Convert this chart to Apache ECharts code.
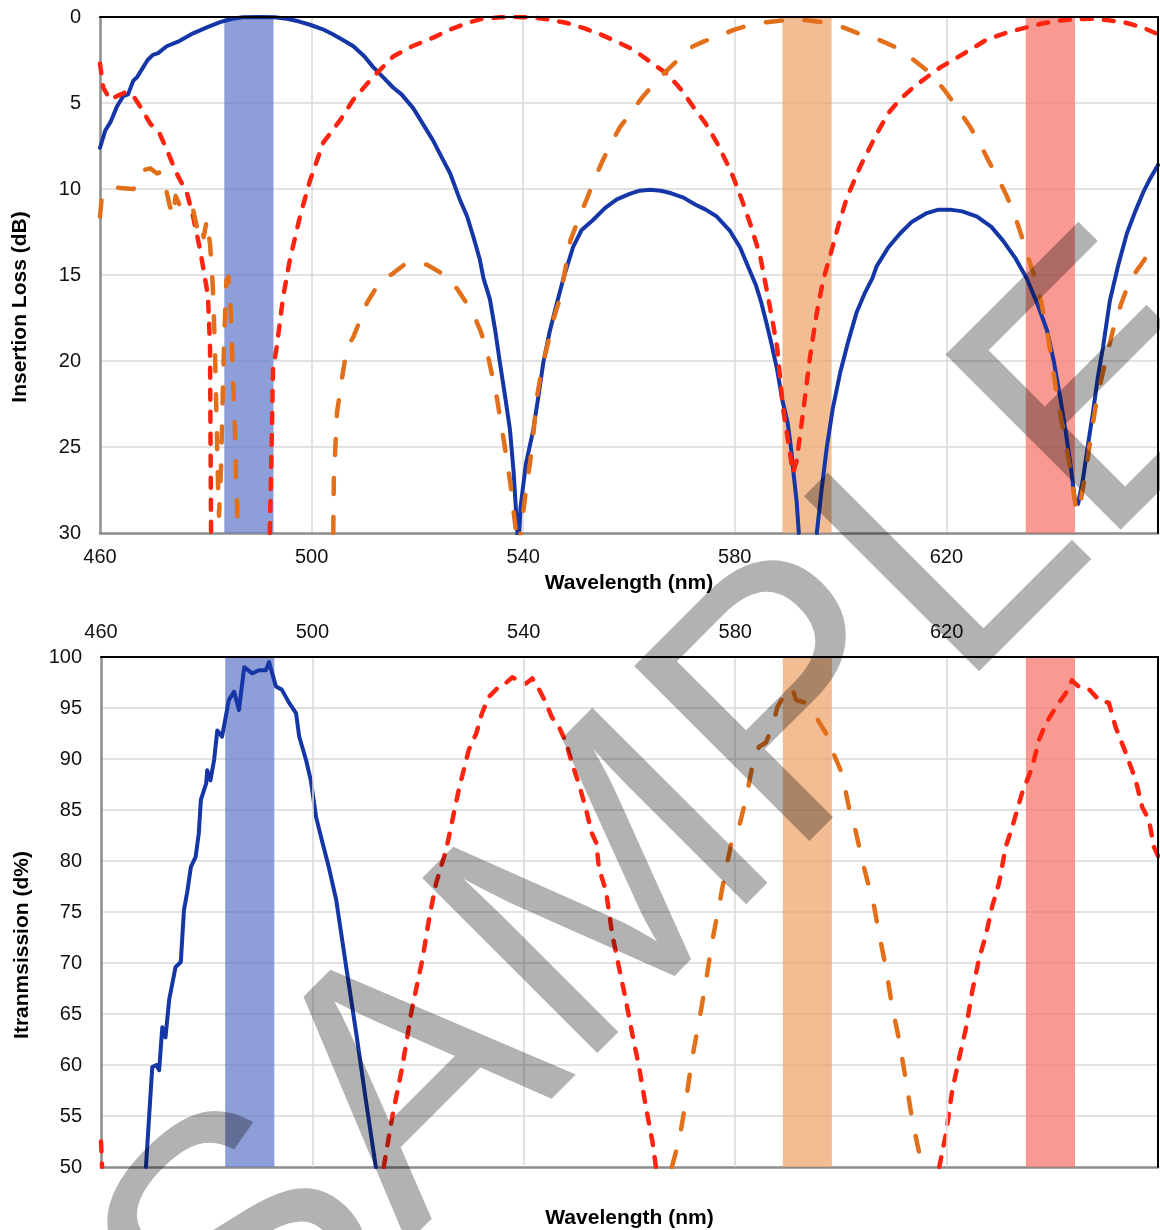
<!DOCTYPE html>
<html>
<head>
<meta charset="utf-8">
<script src="https://cdn.jsdelivr.net/npm/echarts@6.0.0/dist/echarts.min.js"></script>
<style>
  html, body { margin: 0; padding: 0; background: #fff; }
  #chart { width: 1160px; height: 1230px; }
</style>
</head>
<body>
<div id="chart"></div>
<script>
// wavelength range and shaded pass bands (nm)
const wlMin = 460
const wlMax = 660
const blueBand = [483.5, 492.8]
const orangeBand = [589, 598.3]
const redBand = [635, 644.3]

// insertion loss (dB), [wavelength, loss]; null breaks where the curve leaves the plot
const blueLoss = [
  [460,7.6],[461,6.6],[462,6.1],[463.2,5.2],[464.4,4.6],[465.3,4.5],[466.3,3.7],[467,3.5],[468,3.0],[469,2.5],
  [470,2.2],[471,2.1],[472.6,1.7],[475,1.4],[477.6,0.95],[480.2,0.6],[482.7,0.3],[485,0.1],[487,0.02],[490,0],
  [493,0.02],[495.3,0.1],[497.5,0.25],[499.7,0.45],[502,0.7],[504,1.0],[506,1.35],[507.9,1.7],[510,2.3],[511.6,2.9],
  [513.5,3.5],[515.4,4.1],[517,4.5],[519.2,5.3],[521,6.2],[523,7.2],[524.5,8.1],[526.2,9.1],[528,10.6],[529.4,11.6],
  [530.6,12.8],[531.8,14.1],[532.5,15.2],[533.7,16.4],[534.7,18.2],[535.6,20.1],[536.6,22.1],[537.5,24],[538.2,26.5],
  [538.8,29.5],[539.1,31],[539.5,28.5],[540.5,26],[541.9,24],[543,21.8],[543.8,20.1],[545,18.3],[546.4,16.6],
  [547.6,15.2],[549.4,13.4],[551,12.4],[553.2,11.8],[555.5,11.1],[557.7,10.6],[560,10.3],[562,10.1],[564,10.05],
  [566,10.1],[568,10.25],[570.3,10.5],[572.5,10.9],[574.5,11.2],[576.6,11.6],[579,12.4],[581,13.4],[582.5,14.5],
  [584,15.6],[585,16.6],[586,17.8],[587,19.1],[588,20.5],[589,22.3],[590,23.6],[590.6,25],[591.2,26.8],[591.7,28.2],
  [592.1,30],[592.2,null],[595.5,30],[596.4,27.5],[597.4,25],[598.5,22.8],[599.9,20.7],[601.5,18.8],[603,17.2],
  [604.5,16.1],[606,15.2],[606.8,14.5],[609,13.4],[611.2,12.6],[613.5,11.9],[616.3,11.4],[618.5,11.2],[620.7,11.2],
  [623,11.3],[625.8,11.6],[628.5,12.2],[630.7,13],[633,14],[635.2,15.2],[637.1,16.6],[639,18.2],[640.3,20],
  [641.5,22.1],[642.5,24],[643.4,25.9],[644.3,28.1],[644.9,28.3],[645.8,26.9],[646.7,25],[647.7,23],[648.6,21],
  [649.6,19.2],[650.9,16.5],[652.5,14.4],[654.1,12.6],[655.7,11.3],[657.2,10.2],[658.5,9.4],[660,8.6]
]
const redLoss = [
  [460,2.7],[460.6,4.1],[461.9,4.8],[463.2,4.6],[464.7,4.4],[466.3,4.6],[467.6,5.2],[469.5,6.2],[471.3,6.8],
  [472.6,7.7],[474.5,9.1],[476.4,10.2],[477.6,11.6],[478.9,13.5],[479.8,15.1],[480.4,16.2],[480.8,19.2],[480.9,25],
  [481,30],[481.1,null],[492.1,30],[492.5,24],[492.7,20.5],[493.4,19.2],[494.6,16.3],[495.9,14.1],[497.8,11.6],
  [499.7,9.5],[502.2,7.3],[505.4,6],[507.9,4.8],[511.6,3.5],[515.4,2.3],[519,1.7],[523,1.2],[526,0.75],[529.4,0.35],
  [532,0.12],[535.6,0.02],[538.5,0],[541.9,0.02],[545,0.15],[548.3,0.35],[551.5,0.65],[554.5,1.0],[557.5,1.4],
  [560.8,1.9],[564,2.6],[567.2,3.3],[569.8,4.2],[572.1,5.2],[574.5,6.2],[576.6,7.3],[578.2,8.3],[579.7,9.3],
  [581.3,10.6],[582.9,12],[584.8,13.9],[586.3,16.3],[587.2,17.8],[588,19.2],[589.1,22.7],[590.4,25.3],[591,26.5],
  [591.7,25.8],[592.9,23],[594.2,19.8],[595.5,17.2],[596.7,15.3],[598,13.9],[599.6,12.1],[601.2,10.5],[603.7,8.7],
  [606.8,6.8],[609,5.6],[611.2,4.8],[613.7,4.1],[616.3,3.5],[619,2.9],[621.3,2.5],[624.5,1.9],[627.7,1.3],
  [631.5,0.9],[635.2,0.6],[638.5,0.35],[641.5,0.2],[644.5,0.12],[647.7,0.1],[651,0.2],[654.1,0.35],[657,0.6],[660,1.0]
]
const orangeLoss = [
  [460,11.6],[460.3,10.6],[461.3,10.2],[462.5,9.9],[464.4,9.95],[466.3,10],[467,9.8],[468.2,8.9],[469.5,8.8],
  [470.8,9.1],[471.5,9.0],[472.4,9.9],[473.2,11],[473.8,11.6],[474.3,10.4],[475,10.9],[476,11.5],[477.6,11.2],
  [478.3,12.2],[479,11.8],[479.6,12.8],[480.2,11.8],[480.8,13.2],[481.3,15.5],[481.7,19],[482,23],[482.3,27],
  [482.5,29],[482.9,26],[483.2,22],[483.5,18.5],[483.9,15.3],[484.3,15.1],[484.7,17],[485.1,20.5],[485.5,24],
  [485.8,27.5],[486.1,30],[486.2,null],[504.1,30],[504.2,26.9],[504.8,23],[505.7,21.1],[506.7,19.2],[507.9,18.6],
  [509.2,17.6],[510.5,16.6],[512.9,15.4],[515.4,14.9],[517.5,14.4],[519.2,14.3],[521.8,14.4],[523.5,14.7],
  [525.6,15.1],[527.5,15.8],[529,16.5],[530.5,17.2],[532,18.3],[533.2,19.5],[534.1,20.8],[535,22.1],[536,24],
  [537,25.9],[537.7,27.4],[538.2,28.8],[539.1,31],[540,28.8],[540.6,27.3],[541.3,25.9],[542,24],[542.6,22.1],
  [543.5,20.5],[544.5,19.2],[545.7,17.6],[547,16.3],[548,14.6],[548.9,13],[550.4,11.8],[552,10.6],[553.5,9.4],
  [555.1,8.3],[556.7,7.3],[558.3,6.4],[560.5,5.5],[562.7,4.6],[565,3.8],[567.2,3.1],[569.6,2.4],[572.1,1.7],
  [574.3,1.4],[576.6,1.15],[579.8,0.75],[582.9,0.45],[586,0.3],[589.1,0.2],[591,0.1],[594,0.2],[597.4,0.35],
  [600.5,0.6],[603.7,1.0],[607,1.3],[610,1.7],[613,2.3],[616.3,3.1],[618.2,3.7],[620,4.4],[622.3,5.4],[624.5,6.4],
  [626.4,7.4],[628.2,8.5],[629.8,9.4],[631.4,10.4],[633,11.6],[634.5,13],[635.8,14.3],[637.1,15.5],[638,16.7],
  [639,18.2],[640,20.1],[640.9,22.1],[642.1,24],[643.4,26.3],[644.6,28.8],[645.2,28.5],[645.9,27.2],[646.6,25.9],
  [647.5,24],[648.5,22.1],[650,20.1],[651.5,18.2],[653,16.7],[654.7,15.3],[657,14.3],[659,13.4],[660,13.1]
]

// transmission (%), [wavelength, transmission]
const blueTrans = [
  [468.5,50],[469.7,59.8],[470.5,60],[471,59.5],[471.6,63.7],[472.2,62.7],[472.9,66.4],[474.1,69.6],[475.1,70.1],
  [475.7,75.2],[476.3,76.9],[477,79.4],[477.9,80.4],[478.5,82.7],[478.9,86],[479.9,87.6],[480.1,88.9],[480.7,87.9],
  [481.4,89.9],[482,92.8],[482.9,92.2],[484.2,95.8],[485.2,96.6],[486.1,94.8],[487.1,99],[488.6,98.4],[489.9,98.7],
  [491.2,98.7],[491.8,99.5],[493.1,97.1],[494.2,96.8],[495.6,95.5],[496.9,94.5],[497.5,92.2],[498.8,89.9],
  [499.7,87.9],[500.7,84.3],[501.8,82],[503.1,79.4],[504.5,76.2],[506.4,69.6],[508.3,63.1],[510.1,56.6],[512,50]
]
const redTrans = [
  [460,52.5],[460.2,50],[460.3,null],[513.5,50],[515.1,54.9],[517,59.8],[518.8,65.4],[520.8,70.3],[522.2,74.7],
  [523.4,77.8],[525.3,81.1],[526.2,83.3],[527.7,87],[529.6,90.9],[531,92.5],[532.1,94.5],[533.4,96.1],[535.3,97.1],
  [536.5,97.4],[537.8,98],[539.1,97.7],[540.4,97.4],[541.6,97.9],[542.9,96.8],[544.2,95.5],[545.3,94.1],[546.7,93.1],
  [548,91.6],[549.1,89.6],[550.4,87.6],[551.8,85],[552.9,82.7],[553.7,81.8],[554.2,79.4],[555.6,76.9],[556.7,72.9],
  [558,69.6],[559.3,66.4],[560.5,63.1],[561.8,59.8],[563.1,55.9],[564.3,52.6],[565,50],[565.1,null],[618.6,50],
  [619.9,53.3],[621,57.3],[622.3,60.5],[623.7,63.7],[624.8,67.1],[626.1,70.3],[627.5,72.9],[628.6,75.5],
  [629.9,77.8],[631.2,81.4],[632.4,83.3],[634.3,86.7],[636.2,89.2],[637.5,91.9],[638.8,93.5],[640.7,95.1],
  [642.6,96.5],[643.7,97.7],[645,97.1],[647,96.8],[648.8,95.8],[650.7,95.5],[652,93.1],[653.9,90.6],[655.8,87.9],
  [657,85.3],[658.3,84],[659.2,81.4],[660,80.5]
]
const orangeTrans = [
  [568,50],[569.4,52.6],[570.7,56.6],[571.8,60.5],[573.2,64.4],[574.5,68.3],[575.6,72],[576.9,75.5],[578.3,79.4],
  [579.4,82],[580.7,83.3],[582,86],[583.2,89.2],[584.5,91.2],[585.8,91.6],[587,93.1],[588,95.1],[589.6,96.5],
  [590.7,97.1],[591.5,95.8],[593.4,95.5],[595.3,94.1],[597.2,92.5],[598.3,90.9],[600.2,88.6],[601.5,85.3],
  [602.9,82.7],[604,80.1],[605.3,77.5],[606.3,75.5],[607.2,72.9],[608.5,69.6],[609.7,65.7],[611,62.5],[612.3,58.5],
  [613.5,54.6],[614.8,51.4],[615.3,50]
]

const BLUE = '#1536a6'
const RED = '#ff2410'
const ORANGE = '#e2701a'
const FONT = '"Liberation Sans", Arial, sans-serif'

const bandAreas = [
  [{ xAxis: blueBand[0], itemStyle: { color: 'rgba(98,121,203,0.72)' } }, { xAxis: blueBand[1] }],
  [{ xAxis: orangeBand[0], itemStyle: { color: 'rgba(239,163,107,0.72)' } }, { xAxis: orangeBand[1] }],
  [{ xAxis: redBand[0], itemStyle: { color: 'rgba(246,115,104,0.72)' } }, { xAxis: redBand[1] }]
]

const lineSeries = (data, color, dash, xi, yi, extra) => Object.assign({
  type: 'line',
  data,
  xAxisIndex: xi,
  yAxisIndex: yi,
  showSymbol: false,
  symbol: 'none',
  connectNulls: false,
  z: 3,
  lineStyle: { color, width: dash ? 4.5 : 4, type: dash || 'solid', cap: 'round', join: 'round' }
}, extra || {})

// grid lines, leaving out the ones that sit on the frame
const gridLine = {
  show: true, showMinLine: false, showMaxLine: false,
  lineStyle: { color: '#d9d9d9', width: 1.5 }
}
const labelStyle = { color: '#111', fontSize: 20, fontFamily: FONT }
const nameStyle = { color: '#000', fontSize: 21, fontWeight: 'bold', fontFamily: FONT }

// plain black edge of the plot frame (no labels, no grid)
const frameAxis = (gridIndex, position, range) => ({
  type: 'value', gridIndex, position, min: range[0], max: range[1], z: 5,
  axisLine: { show: true, onZero: false, lineStyle: { color: '#000', width: 2 } },
  axisTick: { show: false }, axisLabel: { show: false }, splitLine: { show: false }
})

const chart = echarts.init(document.getElementById('chart'), null, { renderer: 'canvas' })

chart.setOption({
  animation: false,
  backgroundColor: '#fff',
  grid: [
    { left: 100, top: 17, width: 1058, height: 516 },
    { left: 101, top: 657, width: 1057, height: 510 }
  ],
  xAxis: [
    {
      type: 'value', gridIndex: 0, min: wlMin, max: wlMax, interval: 40,
      axisLine: { show: true, onZero: false, lineStyle: { color: '#8c8c8c', width: 2.5 } },
      axisTick: { show: false },
      axisLabel: Object.assign({ margin: 14, showMaxLabel: false }, labelStyle),
      splitLine: gridLine,
      name: 'Wavelength (nm)', nameLocation: 'middle', nameGap: 40, nameTextStyle: nameStyle
    },
    {
      type: 'value', gridIndex: 1, position: 'top', min: wlMin, max: wlMax, interval: 40, z: 5,
      axisLine: { show: true, onZero: false, lineStyle: { color: '#000', width: 2 } },
      axisTick: { show: false },
      axisLabel: Object.assign({ margin: 15, showMaxLabel: false }, labelStyle),
      splitLine: gridLine
    },
    {
      type: 'value', gridIndex: 1, position: 'bottom', min: wlMin, max: wlMax, interval: 40,
      axisLine: { show: true, onZero: false, lineStyle: { color: '#8c8c8c', width: 2.5 } },
      axisTick: { show: false },
      axisLabel: { show: false },
      splitLine: { show: false },
      name: 'Wavelength (nm)', nameLocation: 'middle', nameGap: 41, nameTextStyle: nameStyle
    },
    frameAxis(0, 'top', [wlMin, wlMax])
  ],
  yAxis: [
    {
      type: 'value', gridIndex: 0, inverse: true, min: 0, max: 30, interval: 5,
      axisLine: { show: true, onZero: false, lineStyle: { color: '#8c8c8c', width: 2.5 } },
      axisTick: { show: false },
      axisLabel: Object.assign({ margin: 19 }, labelStyle),
      splitLine: gridLine
    },
    {
      type: 'value', gridIndex: 1, min: 50, max: 100, interval: 5,
      axisLine: { show: true, onZero: false, lineStyle: { color: '#8c8c8c', width: 2.5 } },
      axisTick: { show: false },
      axisLabel: Object.assign({ margin: 19 }, labelStyle),
      splitLine: gridLine
    },
    frameAxis(0, 'right', [0, 30]),
    frameAxis(1, 'right', [50, 100])
  ],
  graphic: [
    {
      type: 'text', x: 20, y: 307, rotation: Math.PI / 2, z: 50,
      style: { text: 'Insertion Loss (dB)', fill: '#000', font: 'bold 21px ' + FONT, textAlign: 'center', textVerticalAlign: 'middle' }
    },
    {
      type: 'text', x: 22, y: 945, rotation: Math.PI / 2, z: 50,
      style: { text: 'Itranmsission (d%)', fill: '#000', font: 'bold 21px ' + FONT, textAlign: 'center', textVerticalAlign: 'middle' }
    },
    {
      // watermark over the plots
      type: 'text', x: 683, y: 827, rotation: Math.PI / 4, z: 100, silent: true,
      style: { text: 'SAMPLE', fill: 'rgba(0,0,0,0.3)', font: 'normal 360px ' + FONT, textAlign: 'center', textVerticalAlign: 'middle' }
    }
  ],
  series: [
    lineSeries(blueLoss, BLUE, null, 0, 0, { markArea: { silent: true, data: bandAreas } }),
    lineSeries(redLoss, RED, [10, 12], 0, 0),
    lineSeries(orangeLoss, ORANGE, [16, 23], 0, 0),
    lineSeries(blueTrans, BLUE, null, 1, 1, { markArea: { silent: true, data: bandAreas } }),
    lineSeries(redTrans, RED, [10, 12], 1, 1),
    lineSeries(orangeTrans, ORANGE, [16, 23], 1, 1)
  ]
})
</script>
</body>
</html>
